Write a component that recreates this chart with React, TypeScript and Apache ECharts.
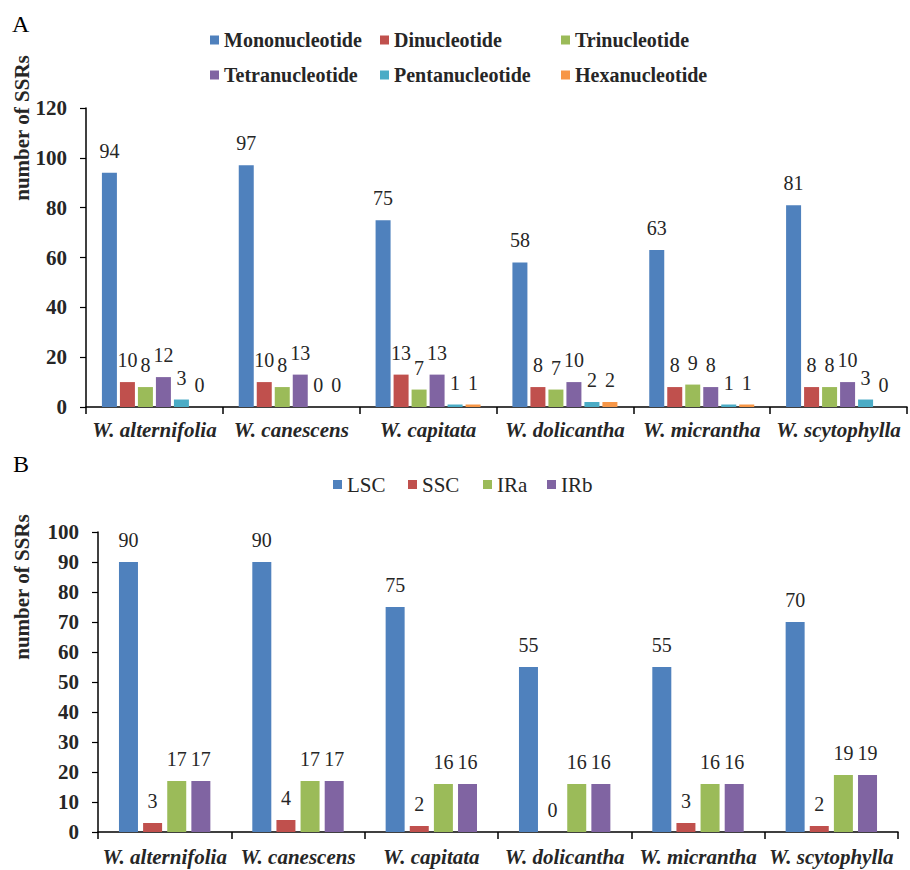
import React, { useEffect, useRef } from "react";
import * as echarts from "echarts";

const categories = [
  "W. alternifolia",
  "W. canescens",
  "W. capitata",
  "W. dolicantha",
  "W. micrantha",
  "W. scytophylla",
];

// Panel A: SSR motif types
const motifNames = [
  "Mononucleotide",
  "Dinucleotide",
  "Trinucleotide",
  "Tetranucleotide",
  "Pentanucleotide",
  "Hexanucleotide",
];
const mono = [94, 97, 75, 58, 63, 81];
const di = [10, 10, 13, 8, 8, 8];
const tri = [8, 8, 7, 7, 9, 8];
const tetra = [12, 13, 13, 10, 8, 10];
const penta = [3, 0, 1, 2, 1, 3];
const hexa = [0, 0, 1, 2, 1, 0];

// Panel B: SSR location
const regionNames = ["LSC", "SSC", "IRa", "IRb"];
const lsc = [90, 90, 75, 55, 55, 70];
const ssc = [3, 4, 2, 0, 3, 2];
const ira = [17, 17, 16, 16, 16, 19];
const irb = [17, 17, 16, 16, 16, 19];

const yTicksA = { min: 0, max: 120, interval: 20 };
const yTicksB = { min: 0, max: 100, interval: 10 };

const colorsA = ["#4F81BD", "#C0504D", "#9BBB59", "#8064A2", "#4BACC6", "#F79646"];
const colorsB = ["#4F81BD", "#C0504D", "#9BBB59", "#8064A2"];

const FONT = "serif";
const FONT2 = "Times New Roman";
const FONT3 = "Liberation Serif";
const TXT = "#262626";

export default function App() {
  const ref = useRef<HTMLDivElement>(null);

  useEffect(() => {
    if (!ref.current) return;
    const chart = echarts.init(ref.current, undefined, { renderer: "svg" });

    const dataA = [mono, di, tri, tetra, penta, hexa];
    const dataB = [lsc, ssc, ira, irb];

    const labelStyle = {
      show: true,
      position: "top" as const,
      distance: 12,
      color: TXT,
      fontFamily: FONT,
      fontSize: 20,
    };

    const seriesA = motifNames.map((name, i) => ({
      name,
      type: "bar",
      xAxisIndex: 0,
      yAxisIndex: 0,
      data: dataA[i],
      barWidth: 15,
      barGap: "20%",
      itemStyle: { color: colorsA[i] },
      label: labelStyle,
    }));

    const seriesB = regionNames.map((name, i) => ({
      name,
      type: "bar",
      xAxisIndex: 1,
      yAxisIndex: 1,
      data: dataB[i],
      barWidth: 19,
      barGap: "27%",
      itemStyle: { color: colorsB[i] },
      label: labelStyle,
    }));

    const legendPosA = [
      [210, 30],
      [380, 30],
      [561, 30],
      [210, 65],
      [380, 65],
      [561, 65],
    ];
    const legendPosB = [
      [333, 474],
      [408, 474],
      [483, 474],
      [547, 474],
    ];

    const legendsA = motifNames.map((name, i) => ({
      data: [name],
      left: legendPosA[i][0],
      top: legendPosA[i][1],
      padding: 0,
      icon: "rect",
      itemWidth: 9,
      itemHeight: 9,
      selectedMode: false,
      textStyle: { fontFamily: FONT3, fontSize: 20, fontWeight: "bold", color: TXT },
    }));
    const legendsB = regionNames.map((name, i) => ({
      data: [name],
      left: legendPosB[i][0],
      top: legendPosB[i][1],
      padding: 0,
      icon: "rect",
      itemWidth: 9,
      itemHeight: 9,
      selectedMode: false,
      textStyle: { fontFamily: FONT3, fontSize: 21, color: TXT },
    }));

    const xAxisBase = {
      type: "category",
      data: categories,
      axisLine: { show: true, lineStyle: { color: "#000", width: 1.5 } },
      axisTick: { show: true, length: 7, lineStyle: { color: "#000", width: 1.5 } },
      axisLabel: {
        color: TXT,
        fontFamily: FONT2,
        fontSize: 21,
        fontStyle: "italic",
        fontWeight: "bold",
        interval: 0,
      },
    };
    const yAxisBase = {
      type: "value",
      splitLine: { show: false },
      axisLine: { show: true, lineStyle: { color: "#000", width: 1.5 } },
      axisTick: { show: true, length: 6, lineStyle: { color: "#000", width: 1.2 } },
      axisLabel: {
        color: TXT,
        fontFamily: FONT2,
        fontSize: 21,
        fontWeight: "bold",
        margin: 19,
      },
    };

    chart.setOption({
      animation: false,
      backgroundColor: "#fff",
      textStyle: { fontFamily: "serif" },
      grid: [
        { left: 86, right: 3, top: 108, bottom: 463 },
        { left: 98, right: 12, top: 532, bottom: 38 },
      ],
      legend: [...legendsA, ...legendsB],
      xAxis: [
        { ...xAxisBase, gridIndex: 0, axisLabel: { ...xAxisBase.axisLabel, margin: 12 } },
        { ...xAxisBase, gridIndex: 1, axisLabel: { ...xAxisBase.axisLabel, margin: 14 } },
      ],
      yAxis: [
        { ...yAxisBase, gridIndex: 0, ...yTicksA },
        { ...yAxisBase, gridIndex: 1, ...yTicksB },
      ],
      series: [...seriesA, ...seriesB],
      graphic: [
        {
          type: "text",
          left: 12,
          top: 12,
          style: { text: "A", font: `24px ${FONT3}`, fill: "#000" },
        },
        {
          type: "text",
          left: 13,
          top: 452,
          style: { text: "B", font: `24px ${FONT3}`, fill: "#000" },
        },
        {
          type: "text",
          x: 22,
          y: 128,
          rotation: Math.PI / 2,
          style: {
            text: "number of SSRs",
            font: `bold 21px ${FONT3}`,
            fill: TXT,
            align: "center",
            verticalAlign: "middle",
            textAlign: "center",
            textVerticalAlign: "middle",
          },
        },
        {
          type: "text",
          x: 22,
          y: 587,
          rotation: Math.PI / 2,
          style: {
            text: "number of SSRs",
            font: `bold 21px ${FONT3}`,
            fill: TXT,
            align: "center",
            verticalAlign: "middle",
            textAlign: "center",
            textVerticalAlign: "middle",
          },
        },
      ],
    });

    return () => chart.dispose();
  }, []);

  return (
    <div
      ref={ref}
      style={{ position: "absolute", left: 0, top: 0, width: 910, height: 870 }}
    />
  );
}
